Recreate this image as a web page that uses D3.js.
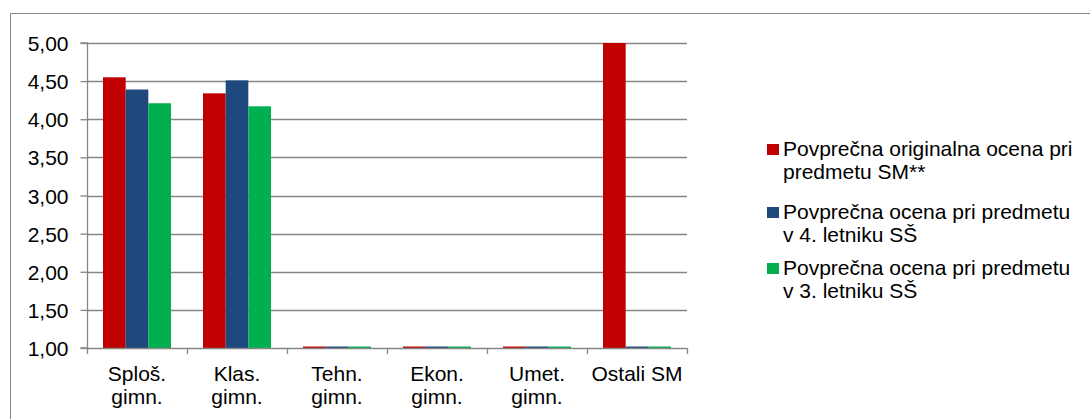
<!DOCTYPE html>
<html><head><meta charset="utf-8">
<script src="https://cdn.jsdelivr.net/npm/d3@7"></script>
<style>
html,body{margin:0;padding:0;background:#fff;}
text{font-family:"Liberation Sans",Arial,sans-serif;fill:#000;}
</style></head>
<body>
<svg id="chart" width="1090" height="419"></svg>
<script>
const categories = [["Sploš.","gimn."],["Klas.","gimn."],["Tehn.","gimn."],["Ekon.","gimn."],["Umet.","gimn."],["Ostali SM"]];
const seriesNames = [
  ["Povprečna originalna ocena pri","predmetu SM**"],
  ["Povprečna ocena pri predmetu","v 4. letniku SŠ"],
  ["Povprečna ocena pri predmetu","v 3. letniku SŠ"]
];
const seriesColors = ["#C00000","#1F497D","#00B050"];
const originalGrade = [4.55, 4.34, 0, 0, 0, 5.00];
const grade4 = [4.39, 4.51, 0, 0, 0, 0];
const grade3 = [4.21, 4.17, 0, 0, 0, 0];
const yTicks = [1.0,1.5,2.0,2.5,3.0,3.5,4.0,4.5,5.0];

(function(){
const series = [originalGrade, grade4, grade3];
const svg = d3.select("#chart");
const gray = "#868686";
const fs = 21;

// outer border
svg.append("rect").attr("x",10.5).attr("y",13.5).attr("width",1100).attr("height",420)
  .attr("fill","none").attr("stroke",gray).attr("stroke-width",1);

const pL = 87, pR = 687, pT = 43, pB = 348;
const catIdx = categories.map((c,i)=>i);
const x = d3.scaleBand().domain(catIdx).range([pL,pR]).padding(0);
const bw = x.bandwidth();
const x1 = d3.scaleBand().domain([0,1,2]).range([bw*0.16, bw*0.84]).padding(0);
const y = d3.scaleLinear().domain([1,5]).range([pB,pT]);

// gridlines
svg.append("g").selectAll("line").data(yTicks.slice(1)).join("line")
  .attr("x1",pL).attr("x2",pR)
  .attr("y1",d=>Math.round(y(d))+0.5).attr("y2",d=>Math.round(y(d))+0.5)
  .attr("stroke",gray).attr("stroke-width",1.3);

// bars
series.forEach((vals,si)=>{
  svg.append("g").selectAll("rect").data(vals).join("rect")
    .attr("x",(d,i)=>x(i)+x1(si))
    .attr("width",x1.bandwidth())
    .attr("y",d=>{const yy=y(Math.max(d,1)); return Math.min(yy, y(1)-1.5);})
    .attr("height",d=>Math.max(y(1)-y(Math.max(d,1)),1.5))
    .attr("fill",seriesColors[si]);
});

// y axis
const yAxis = d3.axisLeft(y).tickValues(yTicks).tickSize(7).tickPadding(12)
  .tickFormat(d=>d3.format(".2f")(d).replace(".",","));
const gy = svg.append("g").attr("transform",`translate(${pL+0.5},0)`).call(yAxis);
gy.select(".domain").attr("stroke",gray).attr("stroke-width",1.3).attr("d",`M-7,${pT}H0V${pB}H-7`);
gy.selectAll(".tick line").attr("stroke",gray).attr("stroke-width",1.3);
gy.selectAll(".tick text").style("font-size",fs+"px").style("font-family","Liberation Sans, Arial, sans-serif").attr("fill","#000").attr("dy","0.36em");

// x axis line and ticks
svg.append("line").attr("x1",pL).attr("x2",pR).attr("y1",pB+0.5).attr("y2",pB+0.5)
  .attr("stroke",gray).attr("stroke-width",1.3);
const bounds = catIdx.map(i=>x(i)).concat([pR]);
svg.append("g").selectAll("line").data(bounds).join("line")
  .attr("x1",d=>d+0.5).attr("x2",d=>d+0.5).attr("y1",pB).attr("y2",pB+6)
  .attr("stroke",gray).attr("stroke-width",1.3);

// category labels
const cl = svg.append("g").selectAll("text").data(categories).join("text")
  .attr("text-anchor","middle").style("font-size",fs+"px")
  .attr("x",(d,i)=>x(i)+bw/2).attr("y",381);
cl.selectAll("tspan").data(d=>d).join("tspan")
  .attr("x",function(){return this.parentNode.getAttribute("x");})
  .attr("dy",(d,i)=>i===0?0:23).text(d=>d);

// legend
const legBase = [156, 219, 275];
seriesNames.forEach((lines,si)=>{
  const g = svg.append("g");
  g.append("rect").attr("x",767).attr("y",legBase[si]-12).attr("width",12).attr("height",11)
    .attr("fill",seriesColors[si]);
  const t = g.append("text").attr("x",783).attr("y",legBase[si]).style("font-size",fs+"px");
  t.selectAll("tspan").data(lines).join("tspan").attr("x",783).attr("dy",(d,i)=>i===0?0:23).text(d=>d);
});
})();
</script>
</body></html>
